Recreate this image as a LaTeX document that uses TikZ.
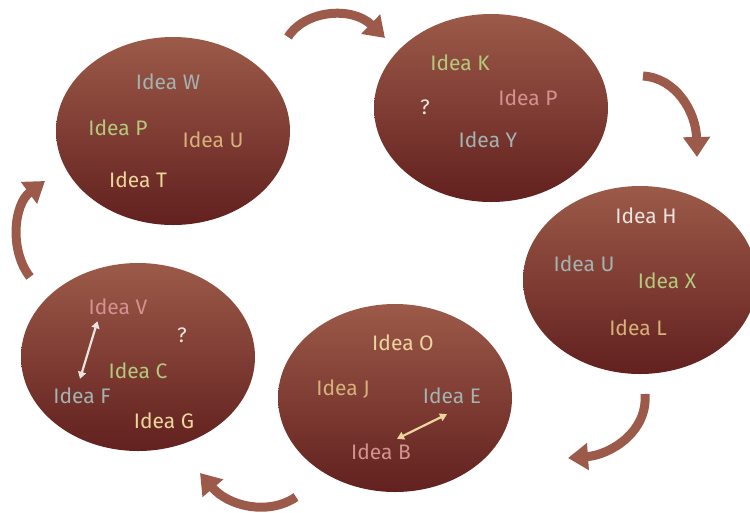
\documentclass[tikz,border=0pt]{standalone}
\usepackage{fontspec}
\setmainfont{Fira Sans}
\usetikzlibrary{shapes.geometric}
\usetikzlibrary{arrows.meta}
\definecolor{blobtop}{HTML}{9C5A49}
\definecolor{blobbot}{HTML}{62201F}
\definecolor{cyccol}{HTML}{9B5A4A}
\definecolor{igray}{HTML}{A3B3AF}
\definecolor{igreen}{HTML}{B5C97C}
\definecolor{itan}{HTML}{D8B07A}
\definecolor{icream}{HTML}{ECD59C}
\definecolor{ipink}{HTML}{D49191}
\definecolor{iwhite}{HTML}{E9E2DD}

\begin{document}
\begin{tikzpicture}[x=1pt,y=-1pt,
  blob/.style={ellipse,minimum width=234pt,minimum height=188pt,inner sep=0pt,
    top color=blobtop,bottom color=blobbot},
  cyc/.style={line width=9pt,cyccol,-{Triangle[width=26pt,length=20pt]}},
  idea/.style={font=\fontsize{21}{24}\selectfont,inner sep=2pt},
  dbl/.style={line width=2.2pt,{Triangle[length=7pt,width=8pt]}-{Triangle[length=7pt,width=8pt]}}]
\useasboundingbox (0,0) rectangle (750,512);

% the five clouds
\node[blob] (c1) at (173,131) {};
\node[blob] (c2) at (491,108) {};
\node[blob] (c3) at (640,280) {};
\node[blob] (c4) at (395,398) {};
\node[blob] (c5) at (138,357) {};

% cycle arrows
\draw[cyc] (288,37) .. controls (305,10) and (352,6) .. (385,38);
\draw[cyc] (643,76) .. controls (676,78) and (696,112) .. (697,157);
\draw[cyc] (645,394) .. controls (648,432) and (610,455) .. (568,458);
\draw[cyc] (296,497) .. controls (268,516) and (228,506) .. (200,473);
\draw[cyc] (30,277) .. controls (9,250) and (14,204) .. (45,181);

% cloud 1
\node[idea,igray]  (w1) at (168,82)  {Idea W};
\node[idea,igreen] (p1) at (118,128) {Idea P};
\node[idea,itan]   (u1) at (213,140) {Idea U};
\node[idea,icream] (t1) at (138,180) {Idea T};

% cloud 2
\node[idea,igreen] (k2) at (460,63)  {Idea K};
\node[idea,ipink]  (p2) at (528,98)  {Idea P};
\node[idea,iwhite] (q2) at (425,107) {?};
\node[idea,igray]  (y2) at (488,140) {Idea Y};

% cloud 3
\node[idea,iwhite] (h3) at (646,216) {Idea H};
\node[idea,igray]  (u3) at (584,264) {Idea U};
\node[idea,igreen] (x3) at (667,281) {Idea X};
\node[idea,itan]   (l3) at (638,328) {Idea L};

% cloud 4
\node[idea,icream] (o4) at (403,343) {Idea O};
\node[idea,itan]   (j4) at (343,389) {Idea J};
\node[idea,igray]  (e4) at (452,396) {Idea E};
\node[idea,ipink]  (b4) at (381,452) {Idea B};
\draw[dbl,icream] ([xshift=-5pt,yshift=-8pt]e4.south) -- ([xshift=16pt,yshift=3pt]b4.north);

% cloud 5
\node[idea,ipink]  (v5) at (118,307) {Idea V};
\node[idea,iwhite] (q5) at (182,335) {?};
\node[idea,igreen] (c5t) at (138,371) {Idea C};
\node[idea,igray]  (f5) at (82,396)  {Idea F};
\node[idea,icream] (g5) at (164,421) {Idea G};
\draw[dbl,iwhite] ([xshift=11pt,yshift=-4pt]v5.south west) -- ([xshift=-2pt,yshift=7pt]f5.north);
\end{tikzpicture}
\end{document}
